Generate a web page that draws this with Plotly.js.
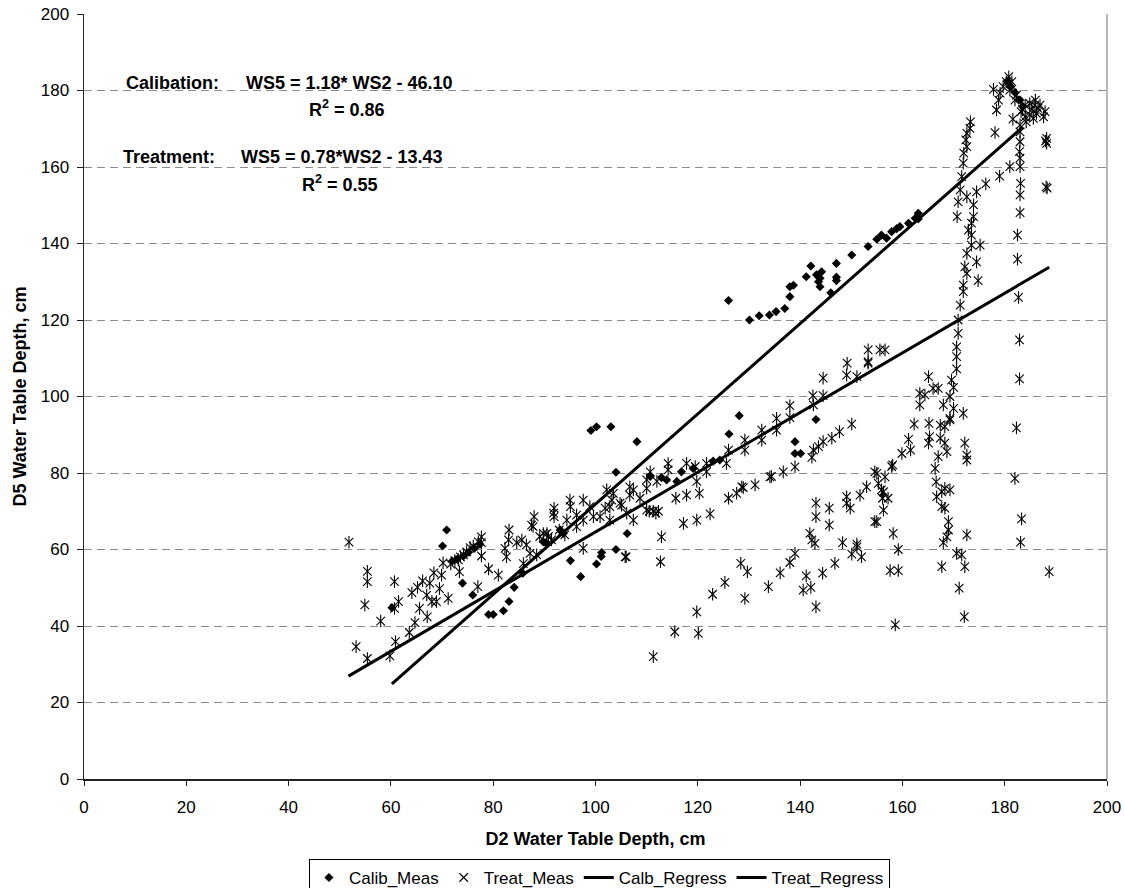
<!DOCTYPE html>
<html>
<head>
<meta charset="utf-8">
<script src="https://cdn.plot.ly/plotly-3.0.1.min.js"></script>
<style>
html,body{margin:0;padding:0;background:#fff;}
#chart{width:1124px;height:888px;}
</style>
</head>
<body>
<div id="chart"></div>
<script>
// ---- Calibration measurements (D2 depth, D5 depth), cm ----
const calibX = [60.2,70.1,70.9,72.0,73.0,74.2,75.2,76.3,77.4,74.0,76.0,
  79.1,80.0,82.0,83.1,84.1,85.8,89.8,90.4,93.1,93.7,95.1,97.1,
  99.1,100.2,103.0,108.1,100.2,101.1,101.2,104.0,106.2,104.0,
  110.7,112.9,113.9,115.9,116.8,119.1,123.0,124.3,126.1,128.1,
  139.0,139.0,140.1,143.1,126.0,130.1,132.0,134.0,135.3,137.0,
  138.0,138.0,138.7,141.2,142.1,143.2,143.9,143.9,144.2,143.6,146.0,
  147.1,147.1,147.1,150.1,153.3,155.0,155.9,156.9,157.9,158.9,159.5,
  161.2,162.5,163.1,163.1,180.5,181.2,182.0,183.0,183.5];
const calibY = [44.8,60.9,65.1,57.0,57.5,58.3,59.3,60.3,61.4,51.2,48.1,
  43.0,43.0,44.0,46.4,50.1,53.8,62.0,61.6,65.1,64.2,57.1,52.9,
  91.1,92.1,92.1,88.2,56.2,58.2,59.2,60.0,64.2,80.2,
  79.1,78.8,78.2,77.8,80.3,81.2,83.1,83.4,90.2,95.0,
  88.2,85.1,85.1,94.0,125.1,120.0,121.1,121.3,122.2,123.0,
  126.1,128.7,129.1,131.3,134.1,131.8,130.9,128.7,132.6,130.0,127.1,
  134.8,131.2,130.3,137.0,139.2,141.1,142.2,141.4,143.1,143.9,144.4,
  145.3,146.6,147.9,146.4,182.5,181.0,179.5,177.5,175.8];

// ---- Treatment measurements (D2 depth, D5 depth), cm ----
const treatX = [51.8,55.4,55.4,60.7,54.9,58.0,53.2,55.4,59.8,60.9,61.5,60.7,
  63.6,64.7,65.6,67.1,64.1,65.2,66.2,67.6,67.0,68.0,68.9,
  68.4,69.5,69.9,70.2,71.2,71.7,72.5,73.2,73.6,74.2,74.8,75.5,76.1,77.1,77.7,77.7,
  73.4,77.7,79.1,81.0,77.0,83.1,82.3,82.6,
  84.6,85.6,86.5,87.5,88.0,87.2,88.5,89.8,90.8,91.4,91.9,91.9,92.9,85.9,
  83.0,87.8,89.1,90.5,91.8,95.0,97.6,94.4,96.3,97.6,98.9,99.6,
  102.2,102.8,103.5,104.8,106.1,106.7,107.4,110.0,110.0,105.8,
  95.1,96.3,97.6,100.9,94.0,103.2,101.9,102.8,105.1,106.7,107.4,108.7,
  110.7,110.0,112.0,114.2,114.2,115.7,117.8,117.8,119.5,119.8,120.3,121.7,121.7,
  125.6,126.0,126.0,127.6,129.2,129.2,131.2,132.5,132.5,134.1,
  112.9,112.7,106.0,117.2,119.8,122.4,128.6,
  119.8,122.9,125.3,128.4,129.7,129.2,133.8,
  110.5,111.3,112.3,111.8,111.3,115.5,120.1,
  153.3,155.6,156.6,149.2,153.3,149.1,151.1,144.5,142.5,144.5,
  138.0,138.0,135.4,135.4,
  142.6,142.6,142.3,143.6,144.5,146.2,147.7,150.1,
  139.0,136.7,134.4,128.9,
  136.1,138.0,139.0,141.2,140.6,142.1,143.1,144.4,146.8,148.3,150.1,151.1,152.0,
  142.3,142.9,141.9,143.1,143.1,145.7,145.7,149.1,149.1,149.8,151.7,153.0,154.6,
  155.3,155.9,156.6,156.1,157.2,156.3,154.6,158.2,159.2,157.6,159.2,158.6,
  158.1,159.9,161.2,161.6,162.3,
  153.3,165.1,163.4,164.4,163.4,166.0,167.0,
  165.2,167.4,168.3,169.3,165.3,165.1,167.4,168.3,168.7,167.0,166.4,166.6,166.7,
  167.7,168.3,169.3,167.7,168.3,169.0,169.0,168.0,168.7,170.6,171.6,172.2,167.7,
  171.1,172.1,172.6,171.9,172.2,172.6,172.6,
  155.0,156.3,155.0,157.9,151.1,
  182.9,182.9,182.3,182.0,183.3,183.1,188.7,
  170.9,170.9,170.6,170.6,170.6,169.6,170.0,169.3,170.0,168.0,169.3,
  172.9,173.5,173.5,175.2,172.6,174.5,172.2,172.6,174.8,171.9,171.9,171.3,
  182.5,182.5,182.7,
  180.8,180.3,181.4,179.7,177.8,179.1,181.0,182.3,182.0,178.8,178.4,181.6,178.1,
  184.0,184.9,185.9,186.9,187.9,186.2,184.9,184.0,185.6,187.6,184.2,183.0,
  183.5,186.5,185.3,186.0,183.2,
  188.2,188.2,188.0,188.1,188.3,
  183.0,183.0,182.9,183.0,183.0,183.1,183.0,183.0,
  181.0,179.0,176.3,174.5,
  173.3,173.2,172.6,172.4,172.6,172.0,171.9,171.6,171.3,170.9,170.7,172.6,173.9,173.9,173.5];
const treatY = [61.9,54.3,51.6,51.6,45.5,41.3,34.6,31.5,32.2,35.9,46.4,44.6,
  38.3,40.9,44.6,42.4,48.7,50.1,51.8,51.2,48.1,46.4,46.4,
  53.9,49.8,53.3,56.5,47.2,56.2,57.1,57.3,58.1,58.6,59.4,60.5,60.9,62.0,63.3,61.8,
  54.2,58.3,54.9,53.3,50.3,65.1,60.3,58.1,
  61.8,62.5,61.2,66.4,68.6,59.0,58.6,64.2,63.4,62.5,70.8,68.6,65.1,56.3,
  62.5,66.0,63.4,64.2,69.5,72.9,72.9,67.7,66.0,60.3,71.2,68.6,
  75.6,71.2,74.7,72.1,69.5,76.4,67.7,78.2,70.3,58.1,
  71.2,69.0,67.7,68.6,63.8,72.9,70.8,67.7,71.6,74.2,75.6,73.4,
  80.3,76.0,77.8,82.5,80.8,73.4,74.2,82.5,81.7,77.8,74.7,82.5,80.3,
  82.5,86.0,73.4,74.7,88.6,86.0,76.9,91.2,88.6,79.0,
  63.3,56.8,58.1,66.8,67.7,69.3,76.4,
  43.7,48.3,51.4,56.4,54.2,47.2,50.3,
  70.0,70.0,70.0,69.5,32.0,38.5,38.1,
  112.2,112.2,112.2,108.7,108.7,105.6,105.2,104.8,100.2,100.2,
  97.6,94.5,94.3,91.2,
  97.8,86.0,84.1,86.9,88.2,89.1,90.8,92.8,
  81.6,80.3,79.1,76.2,
  53.9,56.6,59.0,53.1,49.4,50.1,45.0,53.8,56.4,61.8,58.8,61.4,58.1,
  62.5,61.6,64.2,72.1,68.6,70.8,66.4,72.1,73.8,70.8,74.2,76.4,80.3,
  77.3,75.6,79.0,73.4,73.4,70.3,67.3,64.2,60.0,54.5,54.5,40.3,
  82.1,85.1,88.8,86.0,92.8,
  109.1,105.2,100.8,100.4,97.8,102.1,102.1,
  93.0,92.5,92.1,94.3,89.5,87.8,89.1,87.8,85.6,84.3,81.2,77.7,73.8,
  75.1,76.0,75.6,71.2,70.8,67.3,65.1,61.8,63.3,59.0,58.6,55.5,55.5,
  49.9,42.4,63.8,95.6,87.8,84.7,83.4,
  67.3,75.1,79.9,81.7,60.7,
  114.8,104.6,91.8,78.6,68.0,61.9,54.2,
  120.0,116.5,113.0,110.4,107.2,104.3,102.4,100.0,96.9,97.8,93.9,
  143.5,142.2,139.6,139.6,137.4,135.2,133.9,132.2,130.3,129.1,127.4,123.9,
  142.2,135.9,125.9,
  183.6,182.3,182.3,181.0,180.3,179.3,180.1,178.8,177.5,177.5,174.9,172.5,169.0,
  176.2,176.6,176.2,176.2,174.5,174.0,173.6,173.1,172.7,173.1,171.8,171.0,
  175.0,175.3,175.0,177.5,174.5,
  167.5,166.2,166.8,154.8,154.5,
  169.2,166.6,164.0,162.3,160.1,155.7,152.7,148.1,
  160.1,157.6,155.6,153.5,
  171.8,170.1,168.8,167.1,165.3,163.6,161.0,157.5,154.0,150.9,147.0,152.2,150.1,147.0,145.3];

// ---- Regression line end points (as drawn) ----
const calibRegX = [60.2, 183.5];
const calibRegY = [24.9, 170.4];
const treatRegX = [51.7, 188.7];
const treatRegY = [26.9, 133.8];

// ---- Labels ----
const seriesNames = ['Calib_Meas', 'Treat_Meas', 'Calb_Regress', 'Treat_Regress'];
const xTitle = 'D2 Water Table Depth, cm';
const yTitle = 'D5 Water Table Depth, cm';
const calibLabel = 'Calibation:';
const calibEq = 'WS5 = 1.18* WS2 - 46.10';
const calibR2 = 'R<sup>2</sup> = 0.86';
const treatLabel = 'Treatment:';
const treatEq = 'WS5 = 0.78*WS2 - 13.43';
const treatR2 = 'R<sup>2</sup> = 0.55';

const FONT = 'Arial, "Liberation Sans", sans-serif';

const traces = [
  {
    type: 'scatter', mode: 'markers', name: seriesNames[0],
    x: calibX, y: calibY,
    marker: {symbol: 'diamond', size: 7, color: '#000', line: {width: 0}}
  },
  {
    type: 'scatter', mode: 'markers', name: seriesNames[1], legendgroup: 'treat',
    x: treatX, y: treatY,
    marker: {symbol: 'x-thin-open', size: 8.5, color: '#000', line: {width: 1.1, color: '#000'}}
  },
  {
    type: 'scatter', mode: 'markers', name: seriesNames[1], legendgroup: 'treat', showlegend: false,
    x: treatX, y: treatY, hoverinfo: 'skip',
    marker: {symbol: 'line-ns-open', size: 9, color: '#000', line: {width: 1.1, color: '#000'}}
  },
  {
    type: 'scatter', mode: 'lines', name: seriesNames[2],
    x: calibRegX, y: calibRegY,
    line: {color: '#000', width: 3}
  },
  {
    type: 'scatter', mode: 'lines', name: seriesNames[3],
    x: treatRegX, y: treatRegY,
    line: {color: '#000', width: 3}
  }
];

const annFont = {family: FONT, size: 18, color: '#000'};
function ann(text, x, y) {
  return {text: '<b>' + text + '</b>', x: x, y: y, xref: 'x', yref: 'y',
    xanchor: 'left', yanchor: 'middle', showarrow: false, font: annFont};
}

const layout = {
  width: 1124, height: 888,
  paper_bgcolor: '#fff', plot_bgcolor: '#fff',
  margin: {l: 84, r: 17, t: 14, b: 109, pad: 0},
  font: {family: FONT, size: 17, color: '#000'},
  showlegend: true,
  legend: {
    orientation: 'h', xref: 'container', yref: 'container',
    x: 0.5333, xanchor: 'center', y: 0.0327, yanchor: 'top',
    bordercolor: '#000', borderwidth: 1, bgcolor: '#fff',
    font: {family: FONT, size: 17, color: '#000'},
    itemwidth: 30, tracegroupgap: 0
  },
  xaxis: {
    range: [0, 200], dtick: 20, tick0: 0,
    showgrid: false, zeroline: false,
    showline: true, linecolor: '#222', linewidth: 1.5,
    ticks: 'outside', ticklen: 5, tickcolor: '#222', tickwidth: 1,
    ticklabelstandoff: 7,
    tickfont: {family: FONT, size: 17, color: '#000'},
    title: {text: '<b>' + xTitle + '</b>', font: {family: FONT, size: 18, color: '#000'}, standoff: 16}
  },
  yaxis: {
    range: [0, 200], dtick: 20, tick0: 0,
    showgrid: true, gridcolor: '#8c8c8c', gridwidth: 1, griddash: '8px,5px',
    zeroline: false,
    showline: true, linecolor: '#222', linewidth: 1.5,
    ticks: 'outside', ticklen: 6, tickcolor: '#222', tickwidth: 1,
    ticklabelstandoff: 4,
    tickfont: {family: FONT, size: 17, color: '#000'},
    title: {text: '<b>' + yTitle + '</b>', font: {family: FONT, size: 18, color: '#000'}, standoff: 9}
  },
  shapes: [
    {type: 'line', xref: 'paper', yref: 'paper', x0: 1, x1: 1, y0: 0, y1: 1,
     line: {color: '#a0a0a0', width: 1.5}}
  ],
  annotations: [
    ann(calibLabel, 7.8, 182.0),
    ann(calibEq, 31.3, 182.0),
    ann(calibR2, 43.6, 175.4),
    ann(treatLabel, 7.2, 162.6),
    ann(treatEq, 30.3, 162.6),
    ann(treatR2, 42.2, 155.8)
  ]
};

Plotly.newPlot('chart', traces, layout, {displayModeBar: false, staticPlot: true});
</script>
</body>
</html>
